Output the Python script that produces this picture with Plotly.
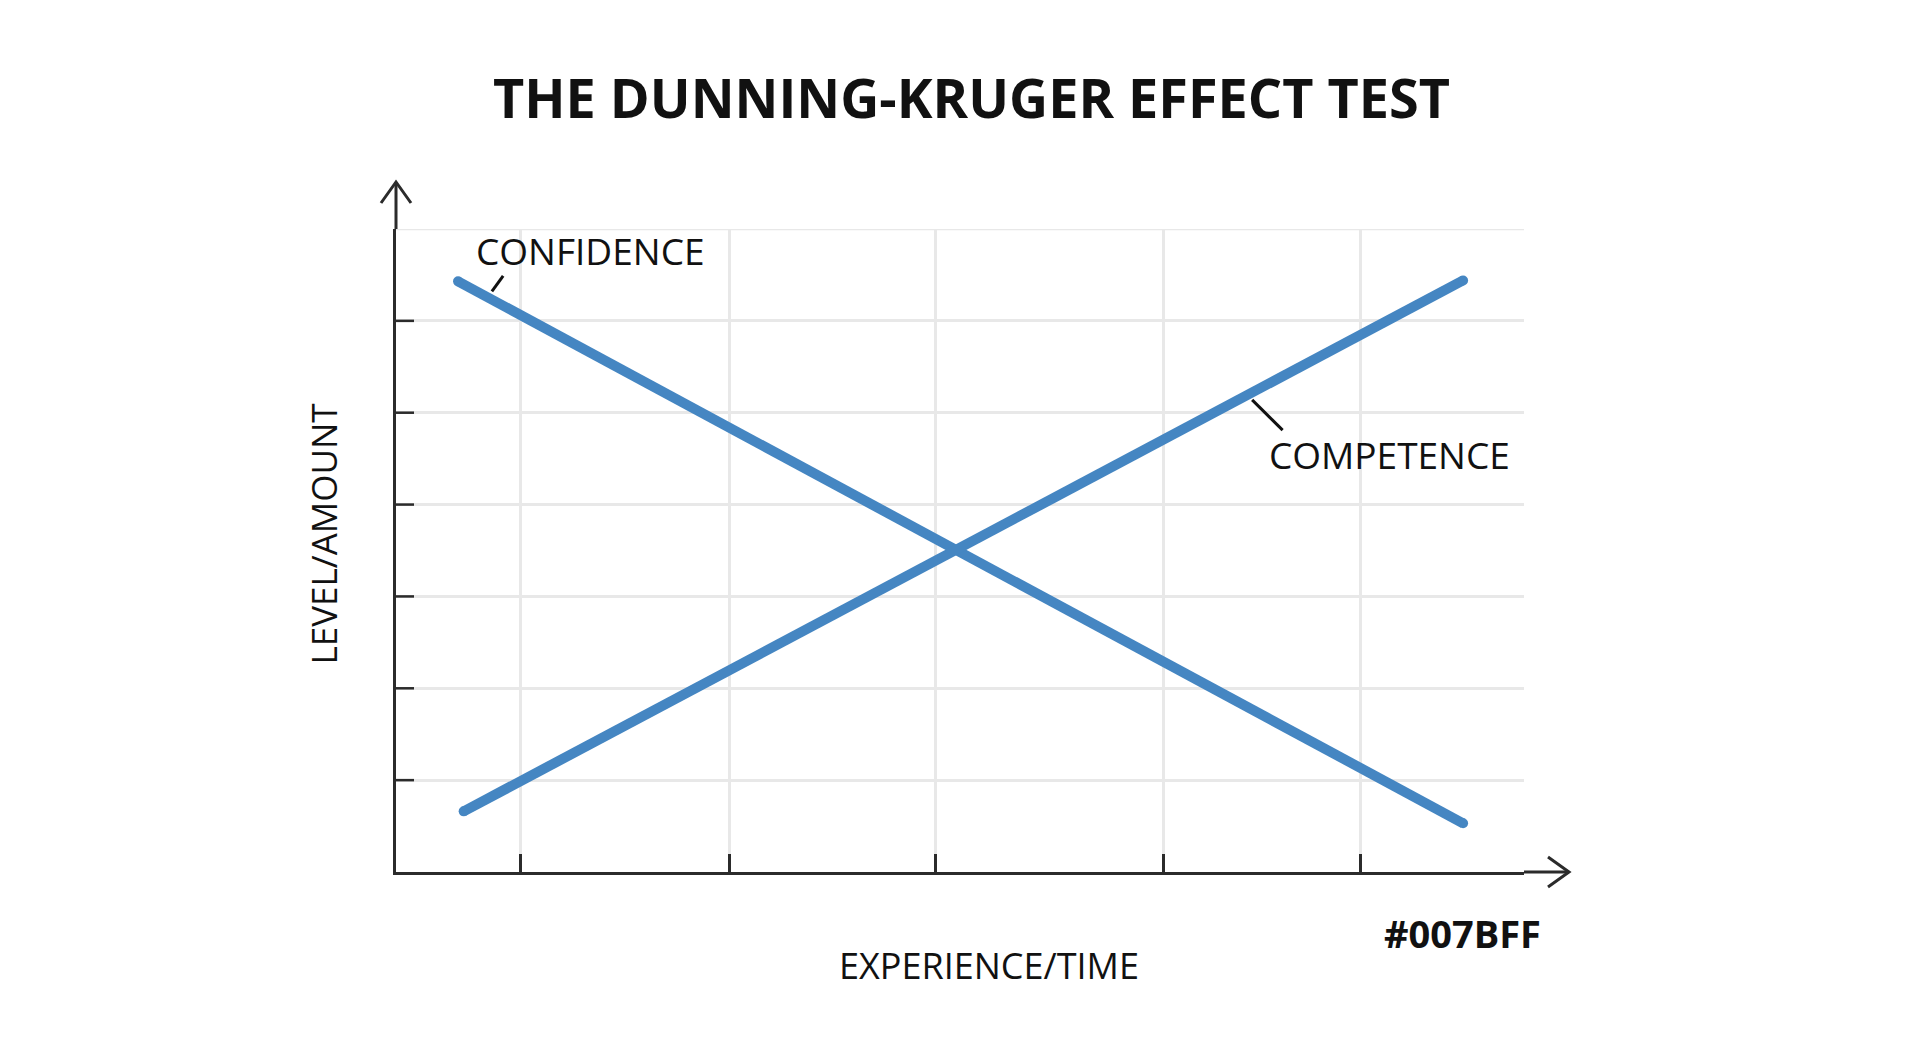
import plotly.graph_objects as go

# ---- data ----
confidence_x = [0.55, 9.46]
confidence_y = [6.43, 0.53]
competence_x = [0.60, 9.46]
competence_y = [0.66, 6.44]
x_tick_vals = [1.10, 2.96, 4.78, 6.80, 8.55]
y_tick_vals = [1, 2, 3, 4, 5, 6]
y_grid_top = 7

title_text = "THE DUNNING-KRUGER EFFECT TEST"
x_title = "EXPERIENCE/TIME"
y_title = "LEVEL/AMOUNT"
conf_label = "CONFIDENCE"
comp_label = "COMPETENCE"
color_note = "#007BFF"

LINE_COLOR = "#4586c2"
AXIS_COLOR = "#2b2b2b"
GRID_COLOR = "#e8e8e8"
FONT = "Open Sans, Noto Sans, DejaVu Sans, sans-serif"

fig = go.Figure()

for xs, ys in [(confidence_x, confidence_y), (competence_x, competence_y)]:
    fig.add_trace(go.Scatter(
        x=xs, y=ys, mode="lines+markers",
        line=dict(color=LINE_COLOR, width=10),
        marker=dict(color=LINE_COLOR, size=10),
        hoverinfo="skip", showlegend=False,
    ))

W, H = 1920, 1047
L, R, T, B = 396, 396, 229, 175
pw = W - L - R
ph = H - T - B

fig.update_layout(
    width=W, height=H,
    margin=dict(l=L, r=R, t=T, b=B),
    paper_bgcolor="white", plot_bgcolor="white",
    showlegend=False,
    font=dict(family=FONT, color="#111111"),
    xaxis=dict(
        range=[0, 10], tickvals=x_tick_vals, showticklabels=False,
        ticks="inside", ticklen=18, tickwidth=2.5, tickcolor=AXIS_COLOR,
        showgrid=True, gridcolor=GRID_COLOR, gridwidth=2.5,
        showline=True, linecolor=AXIS_COLOR, linewidth=3,
        zeroline=False, fixedrange=True,
    ),
    yaxis=dict(
        range=[0, y_grid_top], tickvals=y_tick_vals,
        showticklabels=False,
        ticks="", showgrid=True, gridcolor=GRID_COLOR, gridwidth=2.5,
        showline=True, linecolor=AXIS_COLOR, linewidth=3,
        zeroline=False, fixedrange=True,
    ),
)

shapes = []
# top gridline
shapes.append(dict(type="line", xref="paper", yref="y", x0=0, x1=1, y0=y_grid_top, y1=y_grid_top,
                   line=dict(color=GRID_COLOR, width=2.5), layer="below"))
# y ticks (inside, only 1..6)
for v in y_tick_vals:
    shapes.append(dict(type="line", xref="paper", yref="y", x0=0, x1=18 / pw,
                       y0=v, y1=v, line=dict(color=AXIS_COLOR, width=2.5)))
# axis extensions and chevron arrows
x_tip = (1569 - L) / pw
y_tip = (872 - 182) / ph
shapes.append(dict(type="line", xref="paper", yref="paper", x0=1, x1=x_tip, y0=0, y1=0,
                   line=dict(color=AXIS_COLOR, width=3)))
shapes.append(dict(type="line", xref="paper", yref="paper", x0=0, x1=0, y0=1, y1=y_tip,
                   line=dict(color=AXIS_COLOR, width=3)))
ax_dx, ax_dy = 21 / pw, 15 / ph
shapes.append(dict(type="path", xref="paper", yref="paper",
                   path=f"M {x_tip-ax_dx},{ax_dy} L {x_tip},0 L {x_tip-ax_dx},{-ax_dy}",
                   line=dict(color=AXIS_COLOR, width=3)))
ay_dx, ay_dy = 15 / pw, 21 / ph
shapes.append(dict(type="path", xref="paper", yref="paper",
                   path=f"M {-ay_dx},{y_tip-ay_dy} L 0,{y_tip} L {ay_dx},{y_tip-ay_dy}",
                   line=dict(color=AXIS_COLOR, width=3)))
# leader lines for labels
shapes.append(dict(type="line", xref="x", yref="y", x0=0.85, y0=6.32, x1=0.95, y1=6.49,
                   line=dict(color="#111111", width=3)))
shapes.append(dict(type="line", xref="x", yref="y", x0=7.59, y0=5.14, x1=7.86, y1=4.81,
                   line=dict(color="#111111", width=3)))
fig.update_layout(shapes=shapes)

annotations = [
    dict(text=f"<b>{title_text}</b>", xref="paper", yref="paper",
         x=(971 - L) / pw, y=(872 - 97) / ph, showarrow=False,
         font=dict(size=54, family=FONT, color="#111111"), xanchor="center", yanchor="middle"),
    dict(text=conf_label, xref="x", yref="y", x=(590.5 - L) / 112.8, y=(872 - 250) / 91.857,
         showarrow=False, font=dict(size=37, family=FONT, color="#111111"),
         xanchor="center", yanchor="middle"),
    dict(text=comp_label, xref="x", yref="y", x=(1389 - L) / 112.8, y=(872 - 454) / 91.857,
         showarrow=False, font=dict(size=37, family=FONT, color="#111111"),
         xanchor="center", yanchor="middle"),
    dict(text=x_title, xref="paper", yref="paper", x=(988.5 - L) / pw, y=(872 - 966) / ph,
         showarrow=False, font=dict(size=36, family=FONT, color="#111111"),
         xanchor="center", yanchor="middle"),
    dict(text=y_title, xref="paper", yref="paper", x=(323 - L) / pw, y=(872 - 534.5) / ph,
         showarrow=False, textangle=-90, font=dict(size=35, family=FONT, color="#111111"),
         xanchor="center", yanchor="middle"),
    dict(text=f"<b>{color_note}</b>", xref="paper", yref="paper", x=(1462 - L) / pw,
         y=(872 - 933) / ph, showarrow=False,
         font=dict(size=38, family=FONT, color="#111111"), xanchor="center", yanchor="middle"),
]
fig.update_layout(annotations=annotations)

fig.write_html("out.html", config={"displayModeBar": False})
